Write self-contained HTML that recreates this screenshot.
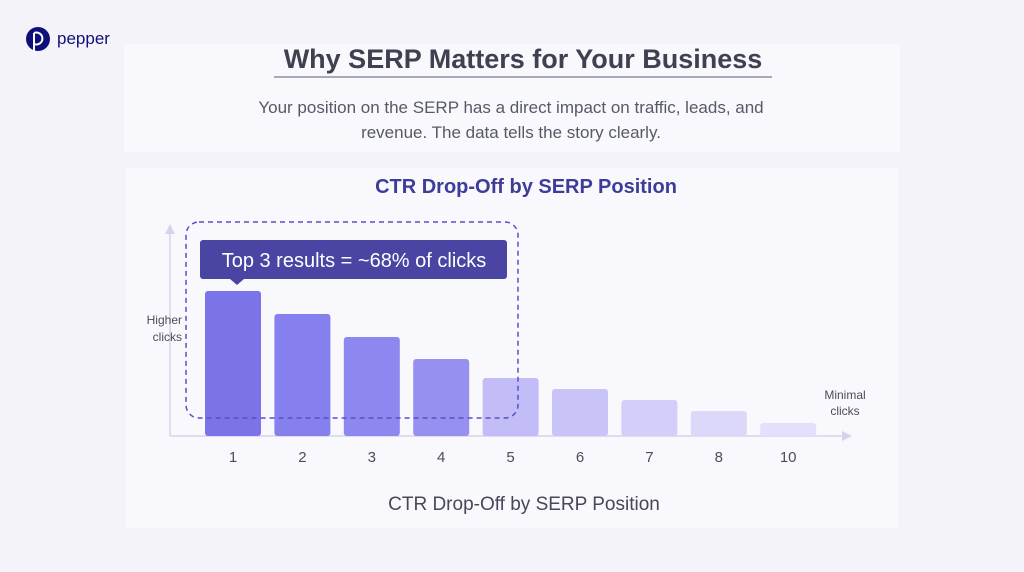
<!DOCTYPE html>
<html><head><meta charset="utf-8">
<style>
html,body{margin:0;padding:0;}
body{width:1024px;height:572px;background:#f5f3fa;font-family:"Liberation Sans",sans-serif;position:relative;overflow:hidden;}
.panel{position:absolute;background:#f9f8fc;}
</style></head>
<body>
<div class="panel" style="left:124px;top:44px;width:776px;height:108px;"></div>
<div class="panel" style="left:126px;top:168px;width:772px;height:360px;"></div>
<svg width="1024" height="572" style="position:absolute;left:0;top:0">
  <g>
    <circle cx="38" cy="39" r="12" fill="#0f0f7a"/>
    <path d="M34 33 a6 6 0 1 1 0 11" fill="none" stroke="#fff" stroke-width="2"/>
    <line x1="34" y1="33" x2="34" y2="52" stroke="#fff" stroke-width="2"/>
    <text x="57" y="44" font-size="17" fill="#10107a">pepper</text>
  </g>
  <text x="523" y="68" text-anchor="middle" font-size="27" font-weight="bold" fill="#3d4150">Why SERP Matters for Your Business</text>
  <line x1="274" y1="77" x2="772" y2="77" stroke="#8a8fa0" stroke-width="1.5"/>
  <text x="511" y="113" text-anchor="middle" font-size="17" fill="#555a66">Your position on the SERP has a direct impact on traffic, leads, and</text>
  <text x="511" y="138" text-anchor="middle" font-size="17" fill="#555a66">revenue. The data tells the story clearly.</text>
  <text x="526" y="193" text-anchor="middle" font-size="20" font-weight="bold" fill="#3d3d99">CTR Drop-Off by SERP Position</text>
  <g id="axes"></g>
  <g id="bars"></g>
  <g id="labels"></g>
  <rect x="186" y="222" width="332" height="196" rx="13" fill="none" stroke="#5b4fc4" stroke-width="1.5" stroke-dasharray="5,4"/>
  <g>
    <rect x="200" y="240" width="307" height="39" rx="3" fill="#4a45a3"/>
    <path d="M230 279 L237 285 L244 279 Z" fill="#4a45a3"/>
    <text x="354" y="267" text-anchor="middle" font-size="20" fill="#fff">Top 3 results = ~68% of clicks</text>
  </g>
  <text x="182" y="324" text-anchor="end" font-size="12" fill="#4a4d5a">Higher</text>
  <text x="182" y="341" text-anchor="end" font-size="12" fill="#4a4d5a">clicks</text>
  <text x="845" y="399" text-anchor="middle" font-size="12" fill="#4a4d5a">Minimal</text>
  <text x="845" y="415" text-anchor="middle" font-size="12" fill="#4a4d5a">clicks</text>
  <text x="524" y="510" text-anchor="middle" font-size="19" fill="#454857">CTR Drop-Off by SERP Position</text>
</svg>
<script>
const categories = ["1","2","3","4","5","6","7","8","10"];
const values = [145,122,99,77,58,47,36,25,13];
const colors = ["#7a74e8","#8580ee","#8d88ef","#9691f0","#c2bcf7","#c9c4f8","#d4cff9","#dcd8fa","#e4e0fb"];
const NS="http://www.w3.org/2000/svg";
const baseY=436, x0=233, step=69.4, bw=56;
function xScale(i){return x0+i*step;}
function yScale(v){return baseY - v;}
const axes=document.getElementById('axes');
function mk(tag,attrs,parent){const e=document.createElementNS(NS,tag);for(const k in attrs)e.setAttribute(k,attrs[k]);parent.appendChild(e);return e;}
const ya=mk('line',{x1:170,y1:436,x2:170,y2:232,stroke:'#d6d2ec','stroke-width':1.5},axes);


const yh=mk('path',{d:'M165 234 L170 224 L175 234 Z',fill:'#d6d2ec'},axes);


const xa=mk('line',{x1:170,y1:436,x2:842,y2:436,stroke:'#d6d2ec','stroke-width':1.5},axes);


const xh=mk('path',{d:'M842 431 L852 436 L842 441 Z',fill:'#d6d2ec'},axes);


const bars=document.getElementById('bars'), labels=document.getElementById('labels');
categories.forEach((c,i)=>{
  const cx=xScale(i), y=yScale(values[i]);
  const r=mk('rect',{x:cx-bw/2,y:y,width:bw,height:baseY-y,rx:3,fill:colors[i]},bars);
  
  
  const t=mk('text',{x:cx,y:462,'text-anchor':'middle','font-size':15,fill:'#4a4d5a'},labels);
  t.textContent=c;
  
  
});
</script>
</body></html>
